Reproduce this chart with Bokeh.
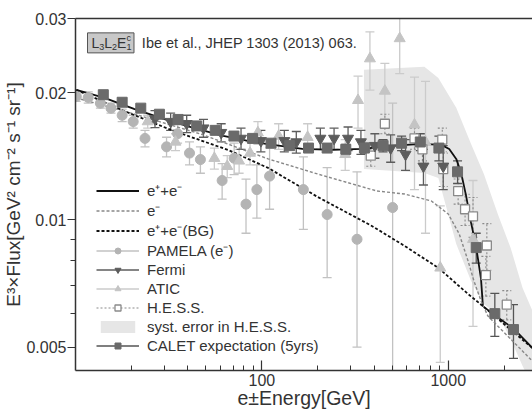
from bokeh.plotting import figure
from bokeh.models import (Legend, LegendItem, FixedTicker, LogAxis, Label, Range1d,
                          CustomJSTickFormatter)
from bokeh.embed import file_html
from bokeh.resources import INLINE

# ---------------- data ----------------
# model curves
ee_E = [10.1, 14.3, 20.6, 29.7, 42.9, 62.1, 89.5, 115, 165, 239, 345, 497, 718, 918,
        1012, 1104, 1173, 1247, 1326, 1409, 1499, 1535, 1799, 2244, 2832]
ee_F = [0.02033, 0.01946, 0.01833, 0.01735, 0.01652, 0.01581, 0.0153, 0.01506, 0.01473,
        0.01465, 0.01473, 0.01497, 0.01514, 0.01506, 0.01473, 0.01395, 0.01292, 0.0114,
        0.00984, 0.00868, 0.00725, 0.00625, 0.00592, 0.00553, 0.00497]

em_E = [10.1, 20.6, 48.6, 70.2, 108, 199, 414, 583, 812, 1000, 1145, 1277, 1374, 1499, 1633, 2832]
em_F = [0.01946, 0.01783, 0.01590, 0.01497, 0.01395, 0.01285, 0.01171, 0.01152, 0.01109,
        0.01033, 0.00927, 0.0080, 0.00717, 0.00643, 0.00592, 0.00463]

bg_E = [10.1, 18.2, 33.6, 65.9, 108, 199, 389, 583, 885, 1277, 1535, 2832]
bg_F = [0.02033, 0.01812, 0.01625, 0.01465, 0.01328, 0.01134, 0.00968, 0.00868, 0.0077,
        0.00668, 0.00625, 0.00497]

# PAMELA (e-)
pam_E = [10.1, 11.7, 13.6, 15.5, 17.8, 20.4, 23.6, 30.8, 35.3, 40.9, 46.8, 61.2, 71.0,
         82.2, 94.0, 110, 167, 224, 324, 503]
pam_F = [0.0196, 0.0195, 0.0189, 0.0184, 0.0177, 0.0171, 0.0156, 0.0149, 0.0160, 0.0144,
         0.0139, 0.0124, 0.0140, 0.0109, 0.0118, 0.0127, 0.0118, 0.0103, 0.0090, 0.0107]
pam_err = [0.0005, 0.0006, 0.0005, 0.0005, 0.0006, 0.0006, 0.0007, 0.0008, 0.0008, 0.0009,
           0.0010, 0.0012, 0.0012, 0.0016, 0.0017, 0.0021, 0.0023, 0.0030, 0.0040, 0.0082]

# Fermi
fer_E = [26.7, 32.4, 39.5, 48.6, 60.5, 77.3, 98.8, 132, 153, 206, 244, 290, 340, 404,
         491, 590, 736, 940]
fer_F = [0.01735, 0.0171, 0.0169, 0.0165, 0.0161, 0.0156, 0.0154, 0.0154, 0.0153, 0.0156,
         0.0156, 0.0156, 0.0153, 0.0150, 0.0148, 0.0143, 0.0134, 0.0134]
fer_err = [0.0008, 0.0008, 0.0008, 0.0008, 0.0008, 0.0009, 0.0009, 0.0009, 0.0009, 0.0009,
           0.0009, 0.0010, 0.0010, 0.0010, 0.0011, 0.0012, 0.0013, 0.0016]

# ATIC
atic_E = [24.4, 34.4, 55.6, 65.2, 75.5, 86.4, 95.2, 123, 176, 280, 328, 380, 457, 549,
          659, 755, 906, 1358]
atic_F = [0.0171, 0.0153, 0.0140, 0.0134, 0.0138, 0.0144, 0.0161, 0.0158, 0.0157, 0.0143,
          0.0192, 0.0241, 0.0202, 0.0269, 0.0168, 0.0153, 0.0077, 0.0090]
atic_err = [0.0006, 0.0007, 0.0008, 0.0008, 0.0009, 0.0009, 0.0010, 0.0011, 0.0012, 0.0012,
            0.0027, 0.0038, 0.0033, 0.0047, 0.0050, 0.0060, 0.0031, 0.0034]

# H.E.S.S.
hess_E = [384, 457, 659, 727, 929, 940, 1130, 1231, 1358, 1592, 1611, 2061]
hess_F = [0.0142, 0.0169, 0.0156, 0.0147, 0.0155, 0.0132, 0.0117, 0.0106, 0.0102, 0.0074,
          0.0087, 0.0063]
hess_err = [0.0008, 0.0009, 0.0009, 0.0009, 0.0010, 0.0012, 0.0008, 0.0009, 0.0011, 0.0008,
            0.0011, 0.0005]

# H.E.S.S. systematic band
band_E = [353, 745, 885, 1104, 1326, 1553, 1844, 2163, 2506, 2832, 3319]
band_hi = [0.02267, 0.02305, 0.02170, 0.01843, 0.01514, 0.01285, 0.01033, 0.00858, 0.0069,
           0.00609, 0.00561]
band_lo = [0.01321, 0.01292, 0.01257, 0.00877, 0.00717, 0.00632, 0.00596, 0.00522, 0.00451,
           0.00404, 0.00353]

# CALET expectation (5yrs)
cal_E = [14.1, 17.8, 22.4, 28.2, 35.5, 44.7, 56.2, 70.8, 89.1, 112, 141, 178, 224, 282,
         355, 447, 562, 708, 891, 1122, 1413, 1778, 2239]
cal_F = [0.0198, 0.0190, 0.0184, 0.0178, 0.0173, 0.0167, 0.0163, 0.0158, 0.0156, 0.0152,
         0.0150, 0.0148, 0.0148, 0.0147, 0.0148, 0.0150, 0.0152, 0.0153, 0.0148, 0.0130,
         0.0086, 0.0060, 0.0055]
cal_err = [0.0002, 0.0002, 0.0002, 0.0002, 0.0002, 0.0002, 0.0002, 0.0002, 0.0002, 0.0003,
           0.0003, 0.0003, 0.0003, 0.0004, 0.0004, 0.0005, 0.0006, 0.0007, 0.0010, 0.0008,
           0.0007, 0.0007, 0.0008]

x_ticks = [100, 1000]
x_minor = [20, 30, 40, 50, 60, 70, 80, 90, 200, 300, 400, 500, 600, 700, 800, 900, 2000]
y_ticks = [0.005, 0.01, 0.02, 0.03]
y_minor = [0.006, 0.007, 0.008, 0.009]

# ---------------- styling ----------------
FONT = "Liberation Sans"
TXT = "#333333"
C_PAM = "#b4b4b4"
C_PAM_BAR = "#c2c2c2"
C_ATIC = "#c4c4c4"
C_ATIC_BAR = "#cbcbcb"
C_FER = "#5c5c5c"
C_CAL = "#6a6a6a"
C_CAL_BAR = "#555555"
C_HESS = "#8a8a8a"

p = figure(width=532, height=411, x_axis_type="log", y_axis_type="log",
           x_range=Range1d(10, 2832), y_range=Range1d(0.0044, 0.03),
           output_backend="svg", toolbar_location=None,
           min_border_left=71, min_border_right=0, min_border_top=18, min_border_bottom=41)
p.outline_line_color = None
p.grid.visible = False
p.background_fill_color = "white"
p.border_fill_color = "white"

fmt = CustomJSTickFormatter(code="return tick.toString();")

xa = p.xaxis[0]
xa.ticker = FixedTicker(ticks=x_ticks, minor_ticks=x_minor)
xa.formatter = fmt
xa.axis_line_color = TXT
xa.axis_line_width = 1.5
xa.major_tick_in = 10
xa.major_tick_out = 0
xa.minor_tick_in = 5
xa.minor_tick_out = 0
xa.major_tick_line_color = TXT
xa.minor_tick_line_color = TXT
xa.major_tick_line_width = 1.2
xa.major_label_standoff = 3
xa.major_label_text_font = FONT
xa.major_label_text_font_size = "16px"
xa.major_label_text_color = TXT
xa.axis_label = "e±Energy[GeV]"
xa.axis_label_standoff = -2
xa.axis_label_text_font = FONT
xa.axis_label_text_font_size = "19.5px"
xa.axis_label_text_font_style = "normal"
xa.axis_label_text_color = TXT

ya = p.yaxis[0]
ya.ticker = FixedTicker(ticks=y_ticks, minor_ticks=y_minor)
ya.formatter = fmt
ya.axis_line_color = TXT
ya.axis_line_width = 1.5
ya.major_tick_in = 0
ya.major_tick_out = 8
ya.minor_tick_in = 0
ya.minor_tick_out = 5
ya.major_tick_line_color = TXT
ya.minor_tick_line_color = TXT
ya.major_tick_line_width = 1.2
ya.major_label_standoff = 1
ya.major_label_text_font = FONT
ya.major_label_text_font_size = "16px"
ya.major_label_text_color = TXT
ya.axis_label = "E³×Flux[GeV² cm⁻² s⁻¹ sr⁻¹]"
ya.axis_label_standoff = -1
ya.axis_label_text_font = FONT
ya.axis_label_text_font_size = "19px"
ya.axis_label_text_font_style = "normal"
ya.axis_label_text_color = TXT

top = LogAxis(ticker=FixedTicker(ticks=[]), axis_line_color=TXT, axis_line_width=1.5,
              major_tick_in=0, major_tick_out=0, minor_tick_in=0, minor_tick_out=0,
              major_label_standoff=0, major_label_text_font_size="0px")
p.add_layout(top, "above")

# systematic band (behind everything)
r_band = p.varea(x=band_E, y1=band_lo, y2=band_hi, fill_color="#e6e6e6")


def errbars(E, F, err, color, dash="solid", width=1.3, cap=9):
    lo = [f - e for f, e in zip(F, err)]
    hi = [f + e for f, e in zip(F, err)]
    seg = p.segment(x0=E, y0=lo, x1=E, y1=hi, line_color=color, line_width=width, line_dash=dash)
    p.scatter(E, hi, marker="dash", size=cap, line_color=color, line_width=width, line_dash=dash)
    p.scatter(E, lo, marker="dash", size=cap, line_color=color, line_width=width, line_dash=dash)
    return seg


b_pam = errbars(pam_E, pam_F, pam_err, C_PAM_BAR)
b_atic = errbars(atic_E, atic_F, atic_err, C_ATIC_BAR)
b_hess = errbars(hess_E, hess_F, hess_err, C_HESS, dash="2 2", width=1.1)
b_fer = errbars(fer_E, fer_F, fer_err, C_FER)
b_cal = errbars(cal_E, cal_F, cal_err, C_CAL_BAR)

# model curves
r_ee = p.line(ee_E, ee_F, line_color="#111111", line_width=1.8)
r_em = p.line(em_E, em_F, line_color="#888888", line_width=1.4, line_dash="3 2")
r_bg = p.line(bg_E, bg_F, line_color="#111111", line_width=1.8, line_dash="3 2")

# data points
s_pam = p.scatter(pam_E, pam_F, marker="circle", size=10, fill_color=C_PAM, line_color=C_PAM)
s_atic = p.scatter(atic_E, atic_F, marker="triangle", size=11, fill_color=C_ATIC, line_color=C_ATIC)
s_hess = p.scatter(hess_E, hess_F, marker="square", size=9, fill_color="white",
                   line_color=C_HESS, line_width=1.3)
s_fer = p.scatter(fer_E, fer_F, marker="inverted_triangle", size=11, fill_color=C_FER, line_color=C_FER)
s_cal = p.scatter(cal_E, cal_F, marker="square", size=10, fill_color=C_CAL, line_color=C_CAL)

legend = Legend(items=[
    LegendItem(label="e⁺+e⁻", renderers=[r_ee]),
    LegendItem(label="e⁻", renderers=[r_em]),
    LegendItem(label="e⁺+e⁻(BG)", renderers=[r_bg]),
    LegendItem(label="PAMELA (e⁻)", renderers=[b_pam, s_pam]),
    LegendItem(label="Fermi", renderers=[b_fer, s_fer]),
    LegendItem(label="ATIC", renderers=[b_atic, s_atic]),
    LegendItem(label="H.E.S.S.", renderers=[b_hess, s_hess]),
    LegendItem(label="syst. error in H.E.S.S.", renderers=[r_band]),
    LegendItem(label="CALET expectation (5yrs)", renderers=[b_cal, s_cal]),
], location=(21, 15), glyph_width=43, glyph_height=15, label_height=19, spacing=0,
    padding=0, margin=0, label_standoff=8, border_line_color=None, background_fill_alpha=0,
    label_text_font=FONT, label_text_font_size="15px", label_text_color=TXT)
p.add_layout(legend)

# model tag box and reference
p.quad(left=[11.6], right=[20.6], bottom=[0.02487], top=[0.02774],
       fill_color="#c8c8c8", line_color="#555555", line_width=1)
ax, ay = 11.6, 0.02627
for txt, dx, dy, fs in [("L", 4, 0, "14px"), ("3", 11.8, -4, "9px"), ("L", 16.8, 0, "14px"),
                        ("2", 24.6, -4, "9px"), ("E", 29.6, 0, "14px"), ("1", 38.9, -4, "9px"),
                        ("c", 38.9, 5, "9px")]:
    p.add_layout(Label(x=ax, y=ay, x_offset=dx, y_offset=dy, text=txt, text_font=FONT,
                       text_font_size=fs, text_color=TXT, text_baseline="middle"))
p.add_layout(Label(x=22.7, y=ay, text="Ibe et al., JHEP 1303 (2013) 063.", text_font=FONT,
                   text_font_size="14.5px", text_color=TXT, text_baseline="middle"))

open("out.html", "w").write(file_html(p, INLINE))
